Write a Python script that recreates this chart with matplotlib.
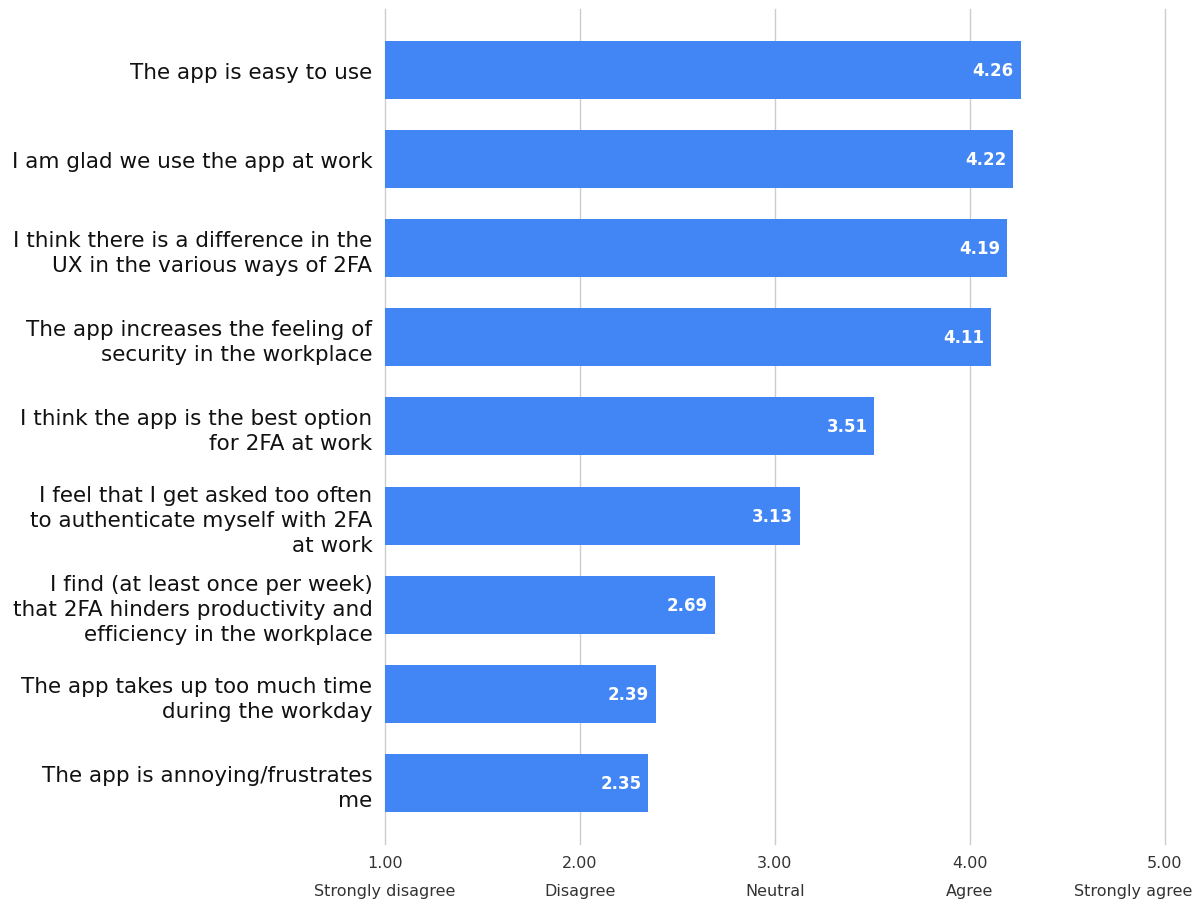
import matplotlib.pyplot as plt

# Survey statements and mean agreement scores (1-5 Likert)
statements = [
    "The app is easy to use",
    "I am glad we use the app at work",
    "I think there is a difference in the\nUX in the various ways of 2FA",
    "The app increases the feeling of\nsecurity in the workplace",
    "I think the app is the best option\nfor 2FA at work",
    "I feel that I get asked too often\nto authenticate myself with 2FA\nat work",
    "I find (at least once per week)\nthat 2FA hinders productivity and\nefficiency in the workplace",
    "The app takes up too much time\nduring the workday",
    "The app is annoying/frustrates\nme",
]
scores = [4.26, 4.22, 4.19, 4.11, 3.51, 3.13, 2.69, 2.39, 2.35]

scale_values = [1, 2, 3, 4, 5]
scale_names = ["Strongly disagree", "Disagree", "Neutral", "Agree", "Strongly agree"]

bar_color = "#4285f4"

fig = plt.figure(figsize=(12, 9.04), dpi=100)
ax = fig.add_axes([0.3208, 0.0653, 0.65, 0.9237])

ypos = list(range(len(statements)))
widths = [s - 1 for s in scores]
ax.barh(ypos, widths, left=1, height=0.65, color=bar_color, zorder=2)

for y, s in zip(ypos, scores):
    ax.text(s - 0.035, y, f"{s:.2f}", ha="right", va="center",
            color="white", fontsize=12, fontweight="bold", zorder=3)

ax.set_xlim(1, 5)
ax.set_ylim(len(statements) - 1 + 0.68, -0.68)
ax.set_xticks(scale_values)
ax.set_xticklabels([f"{v:.2f}" for v in scale_values], fontsize=11.5, color="#333333")
ax.set_yticks(ypos)
ax.set_yticklabels(statements, fontsize=15.5, color="#111111", linespacing=1.3)
ax.tick_params(axis="both", length=0)
ax.tick_params(axis="x", pad=8)
ax.tick_params(axis="y", pad=9)

ax.grid(axis="x", color="#cccccc", linewidth=1, zorder=0)
for line in ax.get_xgridlines():
    line.set_clip_on(False)
for sp in ax.spines.values():
    sp.set_visible(False)

# Likert names under the numeric ticks
trans = ax.get_xaxis_transform()
for v, name in zip(scale_values, scale_names):
    if v == scale_values[-1]:
        ax.text(5.14, -0.047, name, transform=trans, ha="right", va="top",
                fontsize=11.5, color="#333333", clip_on=False)
    else:
        ax.text(v, -0.047, name, transform=trans, ha="center", va="top",
                fontsize=11.5, color="#333333")

fig.savefig("out.png", dpi=100)
